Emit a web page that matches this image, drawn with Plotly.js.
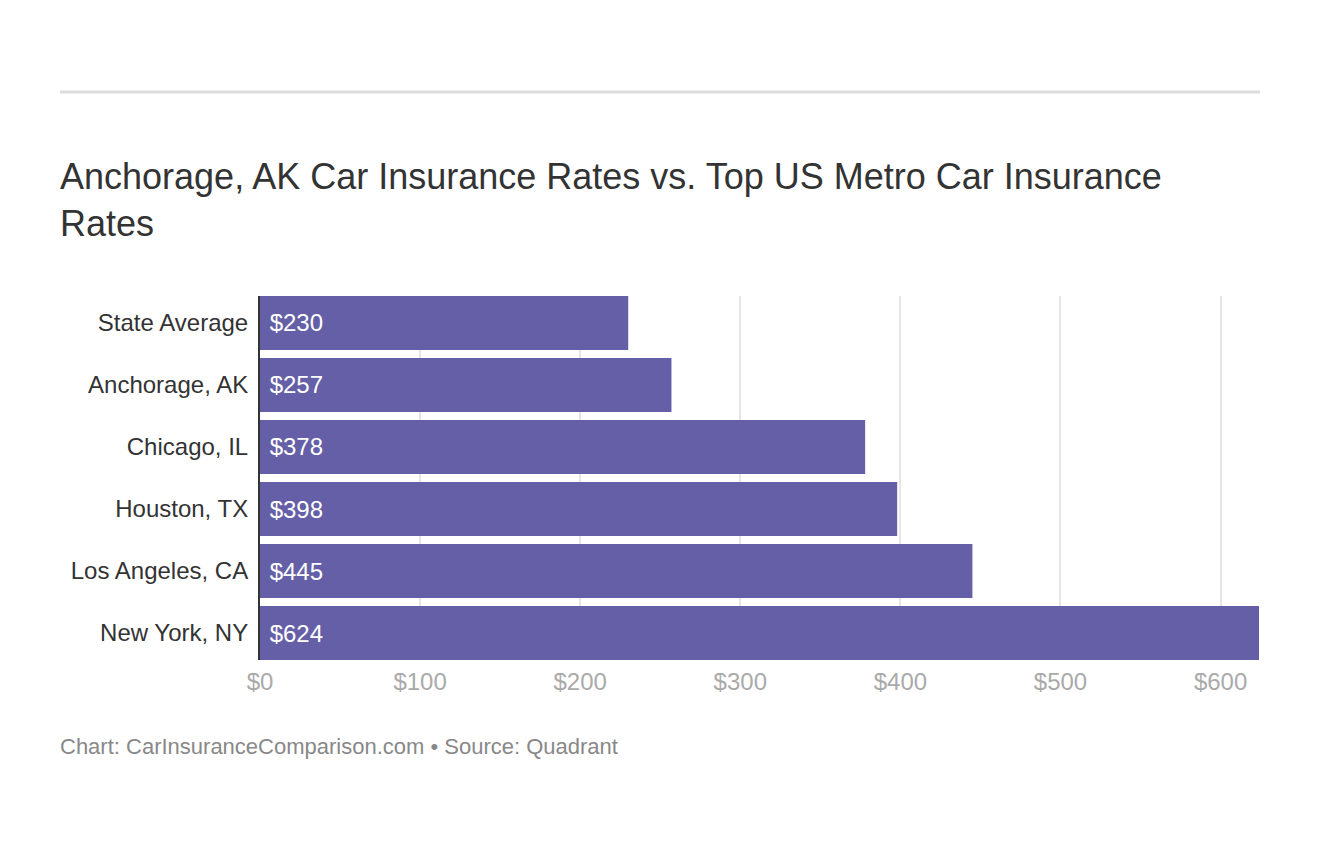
<!DOCTYPE html>
<html>
<head>
<meta charset="utf-8">
<script src="https://cdn.plot.ly/plotly-3.0.1.min.js"></script>
<style>html,body{margin:0;padding:0;background:#fff;}#chart{width:1320px;height:856px;}</style>
</head>
<body>
<div id="chart"></div>
<script>
const categories = ["State Average", "Anchorage, AK", "Chicago, IL", "Houston, TX", "Los Angeles, CA", "New York, NY"];
const rates = [230, 257, 378, 398, 445, 624];
const tickValues = [0, 100, 200, 300, 400, 500, 600];
const tickLabels = ["$0", "$100", "$200", "$300", "$400", "$500", "$600"];
const titleText = "Anchorage, AK Car Insurance Rates vs. Top US Metro Car Insurance<br>Rates";
const footerText = "Chart: CarInsuranceComparison.com • Source: Quadrant";

const W = 1320, H = 856;
const mL = 260, mR = 61, mT = 296, mB = 196;
const pw = W - mL - mR;
const ph = H - mT - mB;
const gap = 0.13;
const n = categories.length;

const trace = {
  type: "bar",
  orientation: "h",
  y: categories,
  x: rates,
  marker: {color: "#645fa6"},
  text: rates.map(v => "\u00a0$" + v),
  textposition: "inside",
  insidetextanchor: "start",
  textfont: {color: "#ffffff", size: 24, family: "Liberation Sans, Arial, sans-serif"},
  hoverinfo: "none"
};

const layout = {
  width: W, height: H,
  margin: {l: mL, r: mR, t: mT, b: mB, pad: 0},
  paper_bgcolor: "#ffffff",
  plot_bgcolor: "#ffffff",
  font: {family: "Liberation Sans, Arial, sans-serif", color: "#333333"},
  showlegend: false,
  bargap: gap,
  xaxis: {
    range: [0, 624],
    tickvals: tickValues,
    ticktext: tickLabels,
    showgrid: true,
    gridcolor: "#e6e6e6",
    gridwidth: 2,
    zeroline: false,
    showline: false,
    ticks: "",
    ticklabelstandoff: 5,
    tickfont: {size: 24, color: "#aaaaaa"},
    fixedrange: true
  },
  yaxis: {
    range: [n - 0.5 - gap / 2, -0.5 + gap / 2],
    showgrid: false,
    zeroline: false,
    showline: true,
    linecolor: "#333333",
    linewidth: 2,
    ticks: "",
    ticklabelstandoff: 5,
    tickfont: {size: 24, color: "#333333"},
    fixedrange: true
  },
  shapes: [
    {type: "line", xref: "paper", yref: "paper",
     x0: (60 - mL) / pw, x1: (1260 - mL) / pw,
     y0: (H - mB - 92) / ph, y1: (H - mB - 92) / ph,
     line: {color: "#dddddd", width: 3}}
  ],
  annotations: [
    {xref: "paper", yref: "paper",
     x: (58 - mL) / pw, y: (H - mB - 154) / ph,
     xanchor: "left", yanchor: "top", align: "left",
     text: titleText, showarrow: false,
     font: {size: 36, color: "#333333"}},
    {xref: "paper", yref: "paper",
     x: (58 - mL) / pw, y: (H - mB - 732) / ph,
     xanchor: "left", yanchor: "top", align: "left",
     text: footerText, showarrow: false,
     font: {size: 22, color: "#888888"}}
  ]
};

Plotly.newPlot("chart", [trace], layout, {displayModeBar: false, staticPlot: true});
</script>
</body>
</html>
